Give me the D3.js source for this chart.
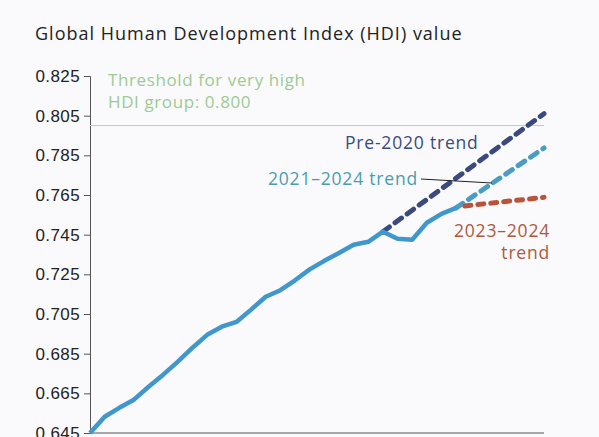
<!DOCTYPE html>
<html><head><meta charset="utf-8">
<script src="https://cdn.jsdelivr.net/npm/d3@7"></script>
<style>body{margin:0;background:#fafafc;}svg{display:block;font-family:"Open Sans",Lato,sans-serif;}</style>
</head><body>
<script>
// HDI actual values
var years = [1999,2000,2001,2002,2003,2004,2005,2006,2007,2008,2009,2010,2011,2012,2013,2014,2015,2016,2017,2018,2019,2020,2021,2022,2023,2024];
var hdi = [0.645,0.6532,0.6577,0.6618,0.6683,0.6744,0.681,0.688,0.6945,0.6986,0.701,0.7072,0.7137,0.717,0.722,0.7275,0.7318,0.7358,0.7399,0.7414,0.7465,0.7429,0.7424,0.751,0.7555,0.7585];
// trend endpoints [year, value]
var pre2020 = [[2019,0.7465],[2030,0.806]];
var trend2124 = [[2024,0.7585],[2030,0.7887]];
var trend2324 = [[2024.6,0.7595],[2030,0.7638]];
var yTicks = [0.645,0.665,0.685,0.705,0.725,0.745,0.765,0.785,0.805,0.825];
var threshold = 0.800;

var W = 599, H = 437;
var svg = d3.select("body").append("svg").attr("width", W).attr("height", H);
svg.append("rect").attr("width", W).attr("height", H).attr("fill", "#fafafc");

var x = d3.scaleLinear().domain([1999, 2030]).range([90, 544]);
var y = d3.scaleLinear().domain([0.645, 0.825]).range([433, 76]);

svg.append("text").attr("x", 35).attr("y", 40).text("Global Human Development Index (HDI) value")
    .style("font-size", "18px").style("letter-spacing", "1px").attr("fill", "#222");

var yAxis = svg.append("g").attr("transform", "translate(90,0)")
    .call(d3.axisLeft(y).tickValues(yTicks).tickFormat(d3.format(".3f")).tickSize(6).tickPadding(4));
yAxis.select(".domain").attr("stroke", "#555");
yAxis.selectAll(".tick line").attr("stroke", "#555");
yAxis.selectAll("text").style("font-size", "17px").style("letter-spacing", "0.4px").attr("fill", "#222");
svg.append("line").attr("x1", 90).attr("x2", 544).attr("y1", 433).attr("y2", 433).attr("stroke", "#555");

// threshold
svg.append("line").attr("x1", 90).attr("x2", x(2030)).attr("y1", y(threshold)).attr("y2", y(threshold))
    .attr("stroke", "#b3d3aa").attr("stroke-width", 1);
var thr = svg.append("g").style("font-size", "17px").style("letter-spacing", "0.6px").attr("fill", "#9ccb93");
thr.append("text").attr("x", 108).attr("y", 86).text("Threshold for very high");
thr.append("text").attr("x", 108).attr("y", 108).text("HDI group: 0.800");

var line = d3.line().x(d => x(d[0])).y(d => y(d[1]));

svg.append("path").datum(pre2020).attr("d", line).attr("fill", "none")
    .attr("stroke", "#3a4a7e").attr("stroke-width", 5).attr("stroke-dasharray", "8,7").attr("stroke-linecap", "round");
svg.append("path").datum(trend2124).attr("d", line).attr("fill", "none")
    .attr("stroke", "#4a9cc2").attr("stroke-width", 5).attr("stroke-dasharray", "8,7").attr("stroke-linecap", "round");
svg.append("path").datum(trend2324).attr("d", line).attr("fill", "none")
    .attr("stroke", "#b9533a").attr("stroke-width", 5).attr("stroke-dasharray", "6,7").attr("stroke-linecap", "round");

svg.append("path").datum(years.map((d, i) => [d, hdi[i]])).attr("d", line).attr("fill", "none")
    .attr("stroke", "#3f97cc").attr("stroke-width", 4.5).attr("stroke-linejoin", "round");

// labels
var lab = svg.append("g").style("font-size", "17.5px").style("letter-spacing", "0.8px");
lab.append("text").attr("x", 345).attr("y", 149).text("Pre-2020 trend").attr("fill", "#3a4a7e");
lab.append("text").attr("x", 418).attr("y", 185).attr("text-anchor", "end").text("2021–2024 trend").attr("fill", "#4a9cb0");
svg.append("line").attr("x1", 421).attr("x2", 492).attr("y1", 179).attr("y2", 183).attr("stroke", "#222").attr("stroke-width", 1);
lab.append("text").attr("x", 550).attr("y", 237).attr("text-anchor", "end").text("2023–2024").attr("fill", "#b0583c");
lab.append("text").attr("x", 550).attr("y", 259).attr("text-anchor", "end").text("trend").attr("fill", "#b0583c");
</script>
</body></html>
